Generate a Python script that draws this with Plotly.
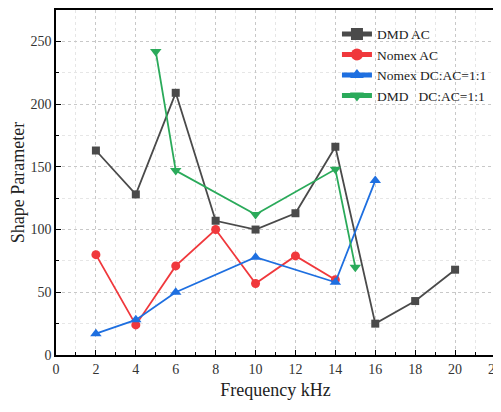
import plotly.graph_objects as go

dmd_ac_x = [2, 4, 6, 8, 10, 12, 14, 16, 18, 20]
dmd_ac_y = [163, 128, 209, 107, 100, 113, 166, 25, 43, 68]
nomex_ac_x = [2, 4, 6, 8, 10, 12, 14]
nomex_ac_y = [80, 24, 71, 100, 57, 79, 60]
nomex_dc_x = [2, 4, 6, 10, 14, 16]
nomex_dc_y = [17, 28, 50, 78, 58, 139]
dmd_dc_x = [5, 6, 10, 14, 15]
dmd_dc_y = [242, 147, 112, 148, 70]

FONT = "Liberation Serif, Times New Roman, serif"

fig = go.Figure()
series = [
    ("DMD AC", dmd_ac_x, dmd_ac_y, "#4a4a4a", "square", 8),
    ("Nomex AC", nomex_ac_x, nomex_ac_y, "#f0383c", "circle", 9),
    ("Nomex DC:AC=1:1", nomex_dc_x, nomex_dc_y, "#1e6fe0", "triangle-up", 10),
    ("DMD   DC:AC=1:1", dmd_dc_x, dmd_dc_y, "#2aaa5a", "triangle-down", 10),
]
for name, x, y, c, sym, sz in series:
    fig.add_trace(go.Scatter(x=x, y=y, name=name, mode="lines+markers",
                             line=dict(color=c, width=1.8),
                             marker=dict(color=c, symbol=sym, size=sz)))

axis_common = dict(showline=True, linecolor="black", linewidth=1.5, mirror=True,
                   ticks="inside", ticklen=5, tickwidth=1.2, tickcolor="black",
                   showgrid=True, gridcolor="#c8c8c8", griddash="dot", gridwidth=1,
                   zeroline=False, automargin=False, ticklabeloverflow="allow",
                   tickfont=dict(family=FONT, size=14, color="#333"))

fig.update_xaxes(range=[0, 22], dtick=2, tick0=0,
                 title=dict(text="Frequency kHz", font=dict(family=FONT, size=18, color="#222"), standoff=8),
                 minor=dict(dtick=1, ticks="inside", ticklen=3, tickcolor="black",
                            showgrid=True, gridcolor="#e6e6e6", griddash="dot"),
                 **axis_common)
fig.update_yaxes(range=[0, 275], dtick=50, tick0=0,
                 title=dict(text="Shape Parameter", font=dict(family=FONT, size=18, color="#222"), standoff=6),
                 minor=dict(dtick=25, ticks="inside", ticklen=3, tickcolor="black",
                            showgrid=True, gridcolor="#e6e6e6", griddash="dot"),
                 **axis_common)

fig.update_layout(
    width=493, height=404,
    margin=dict(l=48, r=6, t=2, b=57),
    paper_bgcolor="white", plot_bgcolor="white",
    showlegend=True,
    legend=dict(x=0.64, y=0.975, xanchor="left", yanchor="top",
                bgcolor="rgba(255,255,255,0)", borderwidth=0,
                font=dict(family=FONT, size=13.5, color="#222"),
                tracegroupgap=0, itemsizing="constant"),
    font=dict(family=FONT),
)

fig.write_html("out.html")
